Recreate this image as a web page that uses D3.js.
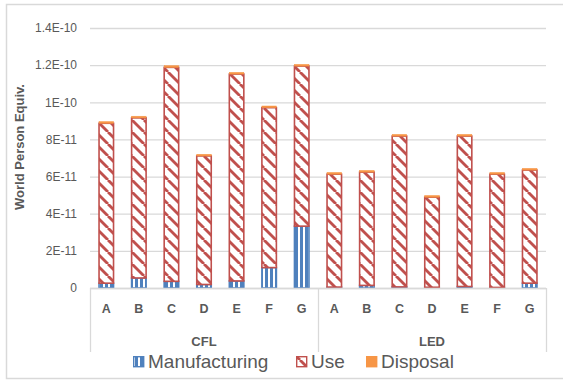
<!DOCTYPE html>
<html>
<head>
<meta charset="utf-8">
<script src="https://cdn.jsdelivr.net/npm/d3@7"></script>
<style>
  html, body { margin: 0; padding: 0; background: #fff; }
  svg { display: block; font-family: "Liberation Sans", Arial, sans-serif; }
</style>
</head>
<body>
<svg id="chart" width="563" height="383"></svg>
<script>
// Lamp technologies and models
const groups = ["CFL", "LED"];
const models = ["A", "B", "C", "D", "E", "F", "G"];

// Impact per life-cycle stage (world person equivalents), CFL A..G then LED A..G
const manufacturing = [2.6e-12, 5.4e-12, 3.6e-12, 1.9e-12, 3.8e-12, 11.0e-12, 33.3e-12,
                       0.5e-12, 1.4e-12, 0.6e-12, 0.4e-12, 0.8e-12, 0.3e-12, 2.6e-12];
const use =           [86.1e-12, 86.2e-12, 115.2e-12, 69.2e-12, 111.4e-12, 86.1e-12, 86.2e-12,
                       60.8e-12, 61.0e-12, 81.2e-12, 48.5e-12, 81.0e-12, 61.0e-12, 60.9e-12];
const disposal =      [0.9e-12, 0.9e-12, 0.9e-12, 0.9e-12, 0.9e-12, 0.9e-12, 0.9e-12,
                       0.9e-12, 0.9e-12, 0.9e-12, 0.9e-12, 0.9e-12, 0.9e-12, 0.9e-12];

const stageNames = ["Manufacturing", "Use", "Disposal"];
const yTickValues = [0, 2e-11, 4e-11, 6e-11, 8e-11, 1e-10, 1.2e-10, 1.4e-10];
const yTickLabels = ["0", "2E-11", "4E-11", "6E-11", "8E-11", "1E-10", "1.2E-10", "1.4E-10"];
const yTitle = "World Person Equiv.";

const svg = d3.select("#chart");
const plot = { left: 90, right: 546, top: 28, bottom: 288 };
const textGrey = "#595959";
const gridGrey = "#d9d9d9";
const colors = { red: "#c0504d", blue: "#4f81bd", orange: "#f79646" };

// Outer chart frame
svg.append("rect")
  .attr("x", 6.5).attr("y", 4.5).attr("width", 562).attr("height", 374)
  .attr("fill", "#fff").attr("stroke", gridGrey).attr("stroke-width", 1.5);

// Fill patterns: wide downward diagonal (use) and vertical stripes (manufacturing)
const defs = svg.append("defs");
const P = 12;
const diag = defs.append("pattern")
  .attr("id", "usePattern").attr("patternUnits", "userSpaceOnUse")
  .attr("width", P).attr("height", P);
diag.append("rect").attr("width", P).attr("height", P).attr("fill", "#fff");
[-P, 0, P].forEach(o => {
  diag.append("line").attr("x1", o).attr("y1", 0).attr("x2", o + P).attr("y2", P)
    .attr("stroke", colors.red).attr("stroke-width", 2.8);
});

const vert = defs.append("pattern")
  .attr("id", "mfgPattern").attr("patternUnits", "userSpaceOnUse")
  .attr("width", 5).attr("height", 5);
vert.append("rect").attr("width", 5).attr("height", 5).attr("fill", "#fff");
vert.append("rect").attr("x", 0).attr("width", 3).attr("height", 5).attr("fill", colors.blue);

const keys = groups.flatMap(g => models.map(m => g + "-" + m));

const x = d3.scaleBand().domain(keys).range([plot.left, plot.right]).paddingInner(0.555).paddingOuter(0.2775);
const y = d3.scaleLinear().domain([0, 1.4e-10]).range([plot.bottom, plot.top]);

// Horizontal gridlines and value labels
const yAxis = svg.append("g")
  .attr("transform", `translate(${plot.left},0)`)
  .call(d3.axisLeft(y).tickValues(yTickValues)
    .tickFormat((d, i) => yTickLabels[i])
    .tickSize(-(plot.right - plot.left)).tickPadding(13));
yAxis.select(".domain").remove();
yAxis.selectAll(".tick line").attr("stroke", gridGrey).attr("stroke-width", 1.3);
yAxis.selectAll(".tick text")
  .attr("fill", textGrey).attr("font-size", 12)
  .attr("font-family", "Liberation Sans, Arial, sans-serif");

// Stacked series
const rows = keys.map((k, i) => ({ key: k, Manufacturing: manufacturing[i], Use: use[i], Disposal: disposal[i] }));
const stacked = d3.stack().keys(stageNames)(rows);
const fills = { Manufacturing: "url(#mfgPattern)", Use: "url(#usePattern)", Disposal: colors.orange };
const strokes = { Manufacturing: colors.blue, Use: colors.red, Disposal: colors.orange };

stacked.forEach(layer => {
  svg.append("g").selectAll("rect")
    .data(layer)
    .join("rect")
    .attr("x", d => x(d.data.key))
    .attr("width", x.bandwidth())
    .attr("y", d => y(d[1]))
    .attr("height", d => Math.max(0, y(d[0]) - y(d[1])))
    .attr("fill", fills[layer.key])
    .attr("stroke", strokes[layer.key])
    .attr("stroke-width", layer.key === "Disposal" ? 0.5 : 1.6);
});

// Category axis with group level
const xAxis = svg.append("g")
  .attr("transform", `translate(0,${plot.bottom})`)
  .call(d3.axisBottom(x).tickSize(0).tickPadding(16).tickFormat(k => k.split("-")[1]));
xAxis.select(".domain").attr("stroke", gridGrey).attr("stroke-width", 1.3)
  .attr("d", `M${plot.left},0.5H${plot.right}`);
xAxis.selectAll(".tick text")
  .attr("fill", textGrey).attr("font-size", 12.5).attr("font-weight", "bold")
  .attr("font-family", "Liberation Sans, Arial, sans-serif");

const groupSpan = groups.map(g => {
  const ks = keys.filter(k => k.startsWith(g + "-"));
  return { g, x0: x(ks[0]) - x.step() * x.paddingInner() / 2, x1: x(ks[ks.length - 1]) + x.bandwidth() + x.step() * x.paddingInner() / 2 };
});
const seps = [plot.left, (groupSpan[0].x1 + groupSpan[1].x0) / 2, plot.right];
svg.append("g").selectAll("line").data(seps).join("line")
  .attr("x1", d => Math.round(d) + 0.5).attr("x2", d => Math.round(d) + 0.5)
  .attr("y1", plot.bottom).attr("y2", 352)
  .attr("stroke", gridGrey).attr("stroke-width", 1.3);

svg.append("g").selectAll("text").data(groupSpan).join("text")
  .attr("x", d => (d.x0 + d.x1) / 2).attr("y", 345.5)
  .attr("text-anchor", "middle").attr("font-size", 13).attr("font-weight", "bold")
  .attr("fill", textGrey).text(d => d.g);

// Axis title
svg.append("text")
  .attr("transform", "translate(24,147) rotate(-90)")
  .attr("text-anchor", "middle").attr("font-size", 13).attr("font-weight", "bold")
  .attr("fill", textGrey).text(yTitle);

// Legend
const legendItems = [
  { name: stageNames[0], x: 133, fill: "url(#mfgPattern)", stroke: colors.blue },
  { name: stageNames[1], x: 296, fill: "url(#usePattern)", stroke: colors.red },
  { name: stageNames[2], x: 366, fill: colors.orange, stroke: colors.orange }
];
const legend = svg.append("g");
legendItems.forEach(it => {
  legend.append("rect").attr("x", it.x + 0.7).attr("y", 356.7).attr("width", 10).attr("height", 10)
    .attr("fill", it.fill).attr("stroke", it.stroke).attr("stroke-width", 1.4);
  legend.append("text").attr("x", it.x + 15).attr("y", 367.5)
    .attr("font-size", 19).attr("fill", textGrey).text(it.name);
});
</script>
</body>
</html>
